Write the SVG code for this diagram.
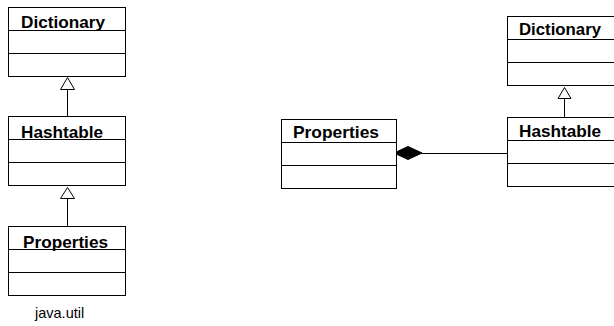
<svg xmlns="http://www.w3.org/2000/svg" width="614" height="326" viewBox="0 0 614 326">
<style>
.box{fill:#fff;stroke:#000;stroke-width:1}
.sep{stroke:#000;stroke-width:1}
.name{font-family:"Liberation Sans",Arial,sans-serif;font-weight:bold;font-size:16.5px;fill:#000}
.lbl{font-family:"Liberation Sans",Arial,sans-serif;font-size:14.5px;fill:#000}
.edge{stroke:#000;stroke-width:1;fill:none}
.tri{fill:#fff;stroke:#000;stroke-width:1}
</style>
<rect width="614" height="326" fill="#fff"/>
<g id="connectors">
<line class="edge" x1="67.5" y1="89" x2="67.5" y2="116"/>
<polygon class="tri" points="67.5,77.5 60.5,89.5 74.5,89.5"/>
<line class="edge" x1="67.5" y1="198" x2="67.5" y2="226"/>
<polygon class="tri" points="67.5,187.5 60.5,198.5 74.5,198.5"/>
<line class="edge" x1="564.5" y1="98" x2="564.5" y2="117"/>
<polygon class="tri" points="564.5,87.5 558,98.5 571,98.5"/>
<line class="edge" x1="421" y1="153.5" x2="507" y2="153.5"/>
<polygon points="394,153 408,146.5 422,153 408,159.5" fill="#000" stroke="#000" stroke-width="1"/>
</g>
<g id="dict-left">
<rect class="box" x="8.5" y="7.5" width="117" height="69"/>
<line class="sep" x1="8.5" y1="30.5" x2="125.5" y2="30.5"/>
<line class="sep" x1="8.5" y1="53.5" x2="125.5" y2="53.5"/>
<text class="name" x="21" y="27.5" textLength="84" lengthAdjust="spacingAndGlyphs">Dictionary</text>
</g>
<g id="hash-left">
<rect class="box" x="8.5" y="116.5" width="117" height="69"/>
<line class="sep" x1="8.5" y1="139.5" x2="125.5" y2="139.5"/>
<line class="sep" x1="8.5" y1="162.5" x2="125.5" y2="162.5"/>
<text class="name" x="21" y="137.5" textLength="82" lengthAdjust="spacingAndGlyphs">Hashtable</text>
</g>
<g id="props-left">
<rect class="box" x="8.5" y="226.5" width="117" height="69"/>
<line class="sep" x1="8.5" y1="249.5" x2="125.5" y2="249.5"/>
<line class="sep" x1="8.5" y1="272.5" x2="125.5" y2="272.5"/>
<text class="name" x="23" y="247.5" textLength="85" lengthAdjust="spacingAndGlyphs">Properties</text>
</g>
<g id="package-label">
<text class="lbl" x="35" y="318">java.util</text>
</g>
<g id="props-mid">
<rect class="box" x="281.5" y="119.5" width="115" height="69"/>
<line class="sep" x1="281.5" y1="142.5" x2="396.5" y2="142.5"/>
<line class="sep" x1="281.5" y1="165.5" x2="396.5" y2="165.5"/>
<text class="name" x="293" y="138" textLength="86" lengthAdjust="spacingAndGlyphs">Properties</text>
</g>
<g id="dict-right">
<rect class="box" x="507.5" y="16.5" width="120" height="69"/>
<line class="sep" x1="507.5" y1="39.5" x2="627.5" y2="39.5"/>
<line class="sep" x1="507.5" y1="62.5" x2="627.5" y2="62.5"/>
<text class="name" x="519" y="35" textLength="82" lengthAdjust="spacingAndGlyphs">Dictionary</text>
</g>
<g id="hash-right">
<rect class="box" x="507.5" y="117.5" width="120" height="69"/>
<line class="sep" x1="507.5" y1="140.5" x2="627.5" y2="140.5"/>
<line class="sep" x1="507.5" y1="163.5" x2="627.5" y2="163.5"/>
<text class="name" x="519" y="137" textLength="82" lengthAdjust="spacingAndGlyphs">Hashtable</text>
</g>
</svg>
